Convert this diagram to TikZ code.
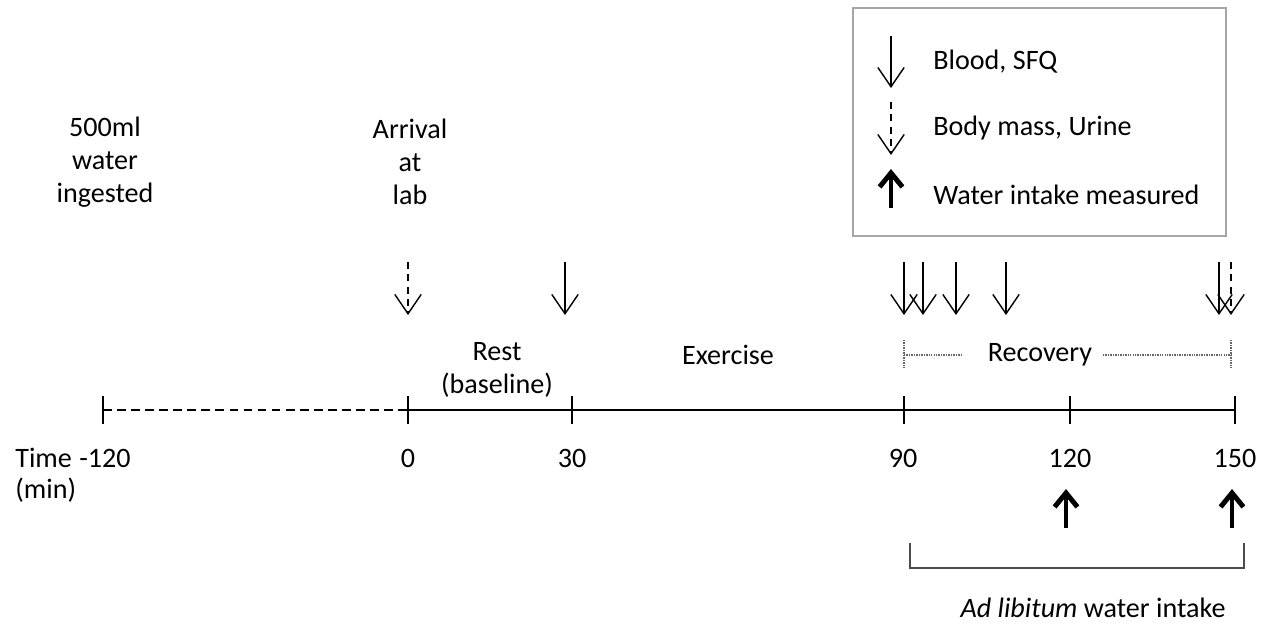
\documentclass[tikz,border=0pt]{standalone}
\usepackage{fontspec}
\setmainfont{Carlito}
\usetikzlibrary{arrows.meta,calc,positioning}
\tikzset{
    >={Straight Barb[length=11pt,width=15pt]},
    lbl/.style={
           font=\fontsize{16}{18.6}\selectfont,
           align=center,
           inner sep=0pt},
    smp/.style={
           ->,
           line width=0.8pt},
    dsmp/.style={
           ->,
           line width=0.8pt,
           dash pattern=on 4pt off 3pt},
    drink/.style={
           -{Straight Barb[length=8pt,width=13pt]},
           line width=2.8pt},
    tk/.style={line width=0.9pt},
    rec/.style={
           gray!80!black,
           line width=0.7pt,
           dash pattern=on 0.8pt off 0.6pt}
}

\begin{document}
\begin{tikzpicture}[x=0.02cm, y=-0.02cm]
        \useasboundingbox (0,0) rectangle (1281,626);

        % timeline
        \coordinate (t0) at (103,410);
        \coordinate (t1) at (408,410);
        \coordinate (t2) at (572,410);
        \coordinate (t3) at (904,410);
        \coordinate (t4) at (1070,410);
        \coordinate (t5) at (1235,410);
        \draw[tk, dash pattern=on 5pt off 3pt] (t0) -- (t1);
        \draw[tk] (t1) -- (t5);
        \foreach \t in {t0,t1,t2,t3,t4,t5}
            \draw[tk] ($(\t)+(0,-14)$) -- ($(\t)+(0,14)$);

        % tick labels
        \node[lbl, anchor=west] (time) at (15,458) {Time};
        \node[lbl, anchor=west] (min) at (15,490) {(min)};
        \node[lbl] (l0) at (105,458) {-120};
        \node[lbl] (l1) at (408,458) {0};
        \node[lbl] (l2) at (572,458) {30};
        \node[lbl] (l3) at (903,458) {90};
        \node[lbl] (l4) at (1070,458) {120};
        \node[lbl] (l5) at (1235,458) {150};

        % phases
        \node[lbl] (pre) at (105,162) {500ml\\water\\ingested};
        \node[lbl] (arr) at (410,162) {Arrival\\at\\lab};
        \node[lbl] (rest) at (497,370) {Rest\\(baseline)};
        \node[lbl] (exer) at (728,355) {Exercise};
        \node[lbl] (recov) at (1040,355) {Recovery};

        \coordinate (ra) at (904,340);
        \coordinate (rb) at (904,368);
        \coordinate (rc) at (1231,340);
        \coordinate (rd) at (1231,368);
        \draw[rec] (ra) -- (rb);
        \draw[rec] (rc) -- (rd);
        \draw[rec] (904,355) -- (962,355);
        \draw[rec] (1103,355) -- (1231,355);

        % sampling arrows
        \foreach \x/\n in {565/b1, 904/b2, 923/b3, 956/b4, 1006/b5, 1219/b6} {
            \coordinate (\n s) at (\x,262);
            \coordinate (\n e) at (\x,315);
            \draw[smp] (\n s) -- (\n e);
        }
        \foreach \x/\n in {408/m1, 1231/m2} {
            \coordinate (\n s) at (\x,262);
            \coordinate (\n e) at (\x,315);
            \draw[dsmp] (\n s) -- (\n e);
        }

        % water intake
        \foreach \x/\n in {1066/w1, 1232/w2} {
            \coordinate (\n s) at (\x,528);
            \coordinate (\n e) at (\x,489);
            \draw[drink] (\n s) -- (\n e);
        }
        \coordinate (ba) at (910,543);
        \coordinate (bb) at (910,568);
        \coordinate (bc) at (1244,568);
        \coordinate (bd) at (1244,543);
        \draw[gray!60!black, line width=0.9pt] (ba) -- (bb) -- (bc) -- (bd);
        \node[lbl] (adlib) at (1093,608) {\textit{Ad libitum} water intake};

        % legend
        \node[draw=gray!70, line width=0.7pt, minimum width=373*0.02cm, minimum height=228*0.02cm,
              inner sep=0pt] (leg) at (1039.5,122) {};
        \coordinate (k1s) at (891,36);
        \coordinate (k1e) at (891,88);
        \coordinate (k2s) at (891,102);
        \coordinate (k2e) at (891,155);
        \coordinate (k3s) at (891,208);
        \coordinate (k3e) at (891,169);
        \draw[smp] (k1s) -- (k1e);
        \draw[dsmp] (k2s) -- (k2e);
        \draw[drink] (k3s) -- (k3e);
        \node[lbl, anchor=west] (kt1) at (933,62) {Blood, SFQ};
        \node[lbl, anchor=west] (kt2) at (933,128) {Body mass, Urine};
        \node[lbl, anchor=west] (kt3) at (933,195) {Water intake measured};
\end{tikzpicture}
\end{document}
